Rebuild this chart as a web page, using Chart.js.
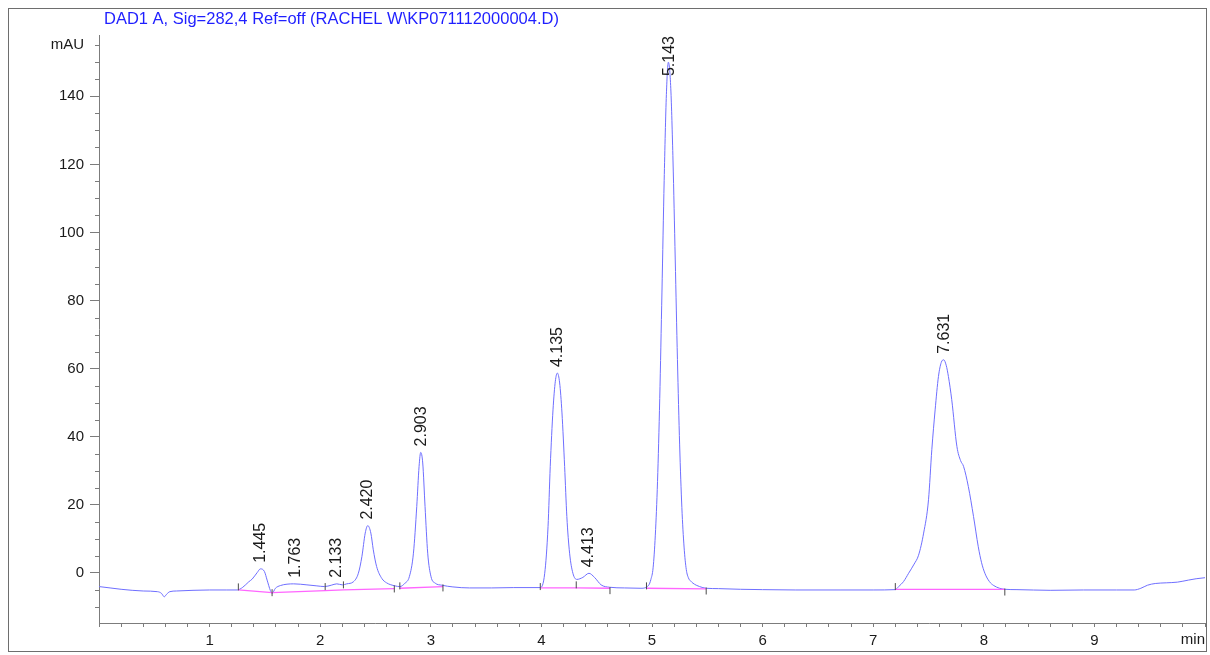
<!DOCTYPE html>
<html>
<head>
<meta charset="utf-8">
<title>DAD1 A chromatogram</title>
<script src="https://cdn.jsdelivr.net/npm/chart.js@4.4.1/dist/chart.umd.min.js"></script>
<style>
  html, body { margin: 0; padding: 0; background: #fff; }
  #wrap { width: 1210px; height: 655px; }
</style>
</head>
<body>
<div id="wrap"><canvas id="chrom" width="1210" height="655"></canvas></div>
<script>
"use strict";

// signal trace (min / mAU)
const traceTimes = [
  0.00, 0.10, 0.20, 0.30, 0.40, 0.53, 0.565, 0.59, 0.61, 0.64, 0.70, 0.85, 1.00, 1.15, 1.25,
  1.30, 1.354, 1.385, 1.43, 1.46, 1.496, 1.52, 1.55, 1.565, 1.595, 1.64, 1.70, 1.76, 1.88, 1.97,
  2.04, 2.10, 2.15, 2.20, 2.24, 2.30, 2.345, 2.377, 2.407, 2.43, 2.458, 2.48, 2.51, 2.557, 2.60,
  2.677, 2.72, 2.767, 2.806, 2.843, 2.873, 2.894, 2.909, 2.927, 2.948, 2.972, 3.002, 3.04, 3.10,
  3.20, 3.35, 3.55, 3.75, 3.99, 4.03, 4.06, 4.08, 4.105, 4.126, 4.144, 4.165, 4.186, 4.21, 4.23,
  4.255, 4.285, 4.32, 4.375, 4.43, 4.48, 4.54, 4.616, 4.75, 4.90, 4.97, 4.99, 5.01, 5.03, 5.05,
  5.07, 5.09, 5.11, 5.13, 5.148, 5.17, 5.19, 5.21, 5.23, 5.25, 5.27, 5.29, 5.31, 5.33, 5.35,
  5.37, 5.40, 5.43, 5.49, 5.60, 5.80, 6.00, 6.30, 6.70, 7.00, 7.20, 7.23, 7.275, 7.32, 7.37,
  7.41, 7.456, 7.50, 7.53, 7.56, 7.59, 7.615, 7.637, 7.66, 7.68, 7.71, 7.757, 7.79, 7.817, 7.86,
  7.907, 7.95, 7.98, 8.01, 8.05, 8.09, 8.19, 8.30, 8.60, 8.90, 9.20, 9.36, 9.42, 9.48, 9.55,
  9.65, 9.75, 9.85, 9.92, 10.0
];
const traceValues = [
  -4.0, -4.4, -4.8, -5.1, -5.3, -5.5, -6.0, -7.0, -6.3, -5.5, -5.3, -5.1, -5.0, -5.0, -5.0,
  -4.2, -2.6, -1.8, 0.1, 1.2, 0.4, -2.1, -5.2, -6.0, -4.5, -3.7, -3.3, -3.2, -3.5, -3.8,
  -4.0, -3.6, -3.2, -3.5, -3.2, -2.6, -0.1, 4.8, 11.7, 13.9, 11.7, 6.8, 1.9, -1.6, -2.9,
  -3.8, -4.0, -3.0, -1.1, 5.8, 19.5, 31.3, 35.4, 32.3, 19.5, 5.8, -1.1, -3.0, -3.6,
  -4.1, -4.4, -4.4, -4.3, -4.3, -0.1, 13.6, 31.3, 47.9, 56.3, 58.7, 55.8, 47.0, 31.3, 16.6,
  5.8, -0.1, -1.9, -1.3, -0.1, -1.3, -3.5, -4.2, -4.4, -4.5, -3.6, -1.9, 1.5, 11.1, 26.9,
  51.2, 82.5, 115.2, 140.5, 150.0, 142.2, 121.0, 92.2, 62.7, 37.6, 19.2, 7.6, 1.0, -1.5, -2.4,
  -3.0, -3.6, -4.0, -4.5, -4.6, -4.8, -4.9, -5.0, -5.0, -5.0, -4.9, -4.0, -2.5, -0.1, 2.6,
  5.2, 11.7, 21.5, 36.2, 47.9, 57.7, 61.8, 62.6, 61.0, 57.7, 50.9, 37.1, 33.0, 31.3, 25.4,
  16.6, 7.7, 3.0, -0.1, -2.5, -3.7, -4.8, -4.9, -5.1, -5.0, -5.0, -5.0, -4.5, -3.6, -3.1,
  -2.9, -2.7, -2.1, -1.7, -1.4
];

// integration baselines (null = gap between segments)
const baseTimes = [1.26, 1.565, 2.045, 2.21, 2.67, null, 2.72, 3.11, null, 3.99, 4.315, 4.62, null, 4.95, 5.49, null, 7.20, 8.19];
const baseValues = [-5.0, -5.8, -5.2, -5.0, -4.6, null, -4.5, -4.0, null, -4.4, -4.4, -4.5, null, -4.5, -4.7, null, -4.8, -4.8];

// peak start / end markers
const markTimes = [1.26, 1.565, 2.045, 2.21, 2.67, 2.72, 3.11, 3.99, 4.315, 4.62, 4.95, 5.49, 7.20, 8.19];
const markValues = [-4.1, -5.8, -4.0, -3.5, -4.7, -3.8, -4.4, -4.0, -3.5, -5.2, -3.8, -5.3, -4.0, -5.6];

// retention time labels
const peakLabels = ["1.445", "1.763", "2.133", "2.420", "2.903", "4.135", "4.413", "5.143", "7.631"];
const peakTimes = [1.445, 1.763, 2.133, 2.420, 2.903, 4.135, 4.413, 5.143, 7.631];
const peakValues = [1.2, -3.2, -3.2, 13.9, 35.4, 58.7, -0.1, 150.0, 62.6];

// axis labels
const xLabelValues = [1, 2, 3, 4, 5, 6, 7, 8, 9];
const yLabelValues = [0, 20, 40, 60, 80, 100, 120, 140];
const yUnitValue = 155;
const yUnit = "mAU";
const xUnit = "min";
const title = "DAD1 A, Sig=282,4 Ref=off (RACHEL W\\KP071112000004.D)";

const FONT = '"Liberation Sans", Arial, sans-serif';
const AXIS = "#7c7c7c";

function near(v, list) {
  for (let i = 0; i < list.length; i++) {
    if (Math.abs(v - list[i]) < 1e-6) return list[i];
  }
  return null;
}

function toPoints(xs, ys) {
  const pts = [];
  for (let i = 0; i < xs.length; i++) {
    pts.push({ x: xs[i], y: ys[i] });
  }
  return pts;
}

// frame, title, minor ticks, unit labels, peak labels
const decor = {
  id: "decor",
  beforeDraw(chart) {
    const ctx = chart.ctx;
    ctx.save();
    ctx.fillStyle = "#fff";
    ctx.fillRect(0, 0, chart.width, chart.height);
    ctx.strokeStyle = "#6e6e6e";
    ctx.lineWidth = 1;
    ctx.strokeRect(8.5, 8.5, 1198, 643);
    ctx.restore();
  },
  afterDraw(chart) {
    const ctx = chart.ctx;
    const area = chart.chartArea;
    const xs = chart.scales.x;
    const ys = chart.scales.y;
    ctx.save();

    ctx.font = "16.5px " + FONT;
    ctx.fillStyle = "#1f1fff";
    ctx.textAlign = "left";
    ctx.textBaseline = "alphabetic";
    ctx.fillText(title, 104, 24);

    // short y ticks every 5 mAU
    ctx.strokeStyle = AXIS;
    ctx.lineWidth = 1;
    ctx.beginPath();
    for (let v = -10; v <= yUnitValue; v += 5) {
      if (near(v, yLabelValues) !== null) continue;
      const py = Math.round(ys.getPixelForValue(v)) + 0.5;
      ctx.moveTo(area.left - 4, py);
      ctx.lineTo(area.left, py);
    }
    ctx.stroke();

    ctx.font = "15px " + FONT;
    ctx.fillStyle = "#1a1a1a";
    ctx.textAlign = "right";
    ctx.textBaseline = "middle";
    ctx.fillText(xUnit, area.right, area.bottom + 17);
    ctx.fillText(yUnit, area.left - 15, ys.getPixelForValue(yUnitValue));

    ctx.font = "16px " + FONT;
    ctx.textAlign = "left";
    ctx.textBaseline = "alphabetic";
    for (let i = 0; i < peakLabels.length; i++) {
      const px = xs.getPixelForValue(peakTimes[i]);
      const w = ctx.measureText(peakLabels[i]).width;
      let start = ys.getPixelForValue(peakValues[i]) - 6;
      if (start - w < area.top + 1) start = area.top + 1 + w;
      ctx.save();
      ctx.translate(px, start);
      ctx.rotate(-Math.PI / 2);
      ctx.fillText(peakLabels[i], 0, 5.7);
      ctx.restore();
    }
    ctx.restore();
  },
};

const chart = new Chart(document.getElementById("chrom"), {
  type: "line",
  data: {
    datasets: [
      {
        label: "marks",
        data: toPoints(markTimes, markValues),
        showLine: false,
        pointStyle: "line",
        rotation: 90,
        pointRadius: 3.5,
        pointBorderColor: "#4a4a4a",
        pointBorderWidth: 1,
      },
      {
        label: "baseline",
        data: toPoints(baseTimes, baseValues),
        borderColor: "#ff66ff",
        borderWidth: 1.3,
        pointRadius: 0,
        spanGaps: false,
      },
      {
        label: "DAD1 A",
        data: toPoints(traceTimes, traceValues),
        borderColor: "#6f6fff",
        borderWidth: 1,
        pointRadius: 0,
        cubicInterpolationMode: "monotone",
      },
    ],
  },
  options: {
    responsive: false,
    animation: false,
    events: [],
    layout: { padding: { top: 35, right: 3, bottom: 0, left: 0 } },
    plugins: { legend: { display: false }, tooltip: { enabled: false }, title: { display: false } },
    scales: {
      x: {
        type: "linear",
        min: 0,
        max: 10,
        afterFit: (scale) => { scale.height = 32; },
        border: { display: true, color: AXIS },
        grid: { drawOnChartArea: false, tickLength: 4, color: AXIS, tickColor: AXIS },
        ticks: {
          stepSize: 0.2,
          autoSkip: false,
          maxRotation: 0,
          padding: 5,
          color: "#1a1a1a",
          font: { family: FONT, size: 15 },
          callback: (v) => {
            const n = near(v, xLabelValues);
            return n === null ? "" : String(n);
          },
        },
      },
      y: {
        type: "linear",
        min: -14.7,
        max: 158,
        afterFit: (scale) => { scale.width = 99; },
        border: { display: true, color: AXIS },
        grid: {
          drawOnChartArea: false,
          tickLength: 9,
          color: AXIS,
          tickColor: (c) => (c.tick && near(c.tick.value, yLabelValues) !== null ? AXIS : "rgba(0,0,0,0)"),
        },
        ticks: {
          stepSize: 5,
          autoSkip: false,
          padding: 6,
          color: "#1a1a1a",
          font: { family: FONT, size: 15 },
          callback: (v) => {
            const n = near(v, yLabelValues);
            return n === null ? "" : String(n);
          },
        },
      },
    },
  },
  plugins: [decor],
});
</script>
</body>
</html>
